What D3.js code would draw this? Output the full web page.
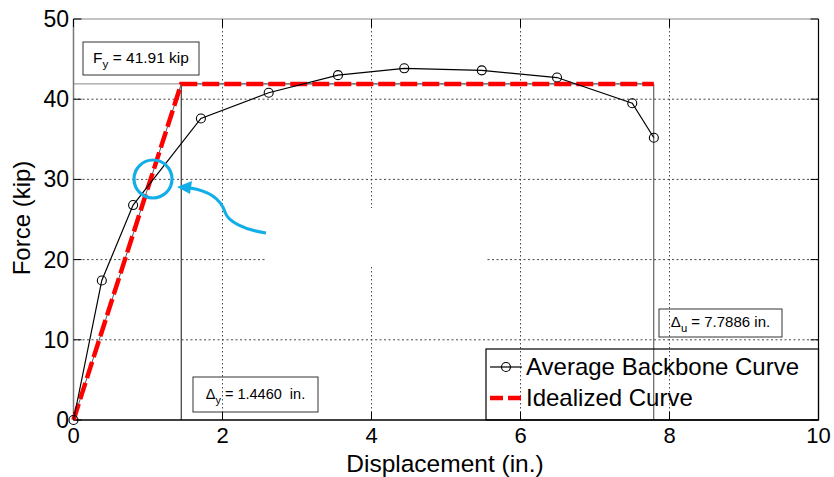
<!DOCTYPE html>
<html>
<head>
<meta charset="utf-8">
<script src="https://cdn.jsdelivr.net/npm/d3@7"></script>
<style>
  html, body { margin: 0; padding: 0; background: #fff; }
  svg { display: block; font-family: "Liberation Sans", Arial, sans-serif; }
</style>
</head>
<body>
<svg id="chart" width="834" height="477"></svg>
<script>
// Average backbone curve (displacement in., force kip)
const backboneDisp  = [0, 0.38, 0.80, 1.71, 2.62, 3.55, 4.44, 5.48, 6.49, 7.50, 7.79];
const backboneForce = [0, 17.4, 26.8, 37.6, 40.8, 43.0, 43.85, 43.6, 42.7, 39.5, 35.2];

// Idealized bilinear curve
const yieldForce = 41.91;
const yieldDisp = 1.4460;
const ultimateDisp = 7.7886;
const idealDisp  = [0, yieldDisp, ultimateDisp];
const idealForce = [0, yieldForce, yieldForce];

const xTicks = [0, 2, 4, 6, 8, 10];
const yTicks = [0, 10, 20, 30, 40, 50];

const svg = d3.select("#chart");
const plotL = 73.5, plotR = 818.5, plotT = 19, plotB = 420;

const x = d3.scaleLinear().domain([0, 10]).range([plotL, plotR]);
const y = d3.scaleLinear().domain([0, 50]).range([plotB, plotT]);

// Grid
const grid = svg.append("g");
grid.selectAll(".gx").data(xTicks.slice(1, -1)).join("line")
  .attr("x1", d => x(d)).attr("x2", d => x(d))
  .attr("y1", plotT).attr("y2", plotB)
  .attr("stroke", "#333").attr("stroke-width", 0.9).attr("stroke-dasharray", "1.5,2.5");
grid.selectAll(".gy").data(yTicks.slice(1, -1)).join("line")
  .attr("x1", plotL).attr("x2", plotR)
  .attr("y1", d => y(d)).attr("y2", d => y(d))
  .attr("stroke", "#333").attr("stroke-width", 0.9).attr("stroke-dasharray", "2,2.5");

// Blank panel
svg.append("rect").attr("x", 266).attr("y", 208).attr("width", 219).attr("height", 57).attr("fill", "#fff");

// Reference lines for yield force and displacements
const refs = svg.append("g").attr("fill", "none");
refs.append("line")
  .attr("x1", x(0)).attr("x2", x(ultimateDisp))
  .attr("y1", y(yieldForce)).attr("y2", y(yieldForce))
  .attr("stroke", "#888").attr("stroke-width", 1);
refs.append("line")
  .attr("x1", x(yieldDisp)).attr("x2", x(yieldDisp))
  .attr("y1", y(yieldForce)).attr("y2", plotB)
  .attr("stroke", "#111").attr("stroke-width", 1);
refs.append("line")
  .attr("x1", x(ultimateDisp)).attr("x2", x(ultimateDisp))
  .attr("y1", y(yieldForce)).attr("y2", plotB)
  .attr("stroke", "#444").attr("stroke-width", 1);

// Axes frame
svg.append("line").attr("x1", plotL).attr("x2", plotR).attr("y1", plotT).attr("y2", plotT).attr("stroke", "#888").attr("stroke-width", 1.2);
svg.append("line").attr("x1", plotL).attr("x2", plotL).attr("y1", plotT).attr("y2", plotB).attr("stroke", "#777").attr("stroke-width", 1.5);
svg.append("line").attr("x1", plotR).attr("x2", plotR).attr("y1", plotT).attr("y2", plotB).attr("stroke", "#000").attr("stroke-width", 1.2);
svg.append("line").attr("x1", plotL).attr("x2", plotR).attr("y1", plotB).attr("y2", plotB).attr("stroke", "#000").attr("stroke-width", 1.5);

// Inward ticks on all four sides
const tk = 8;
const ticks = svg.append("g").attr("stroke", "#000").attr("stroke-width", 1);
ticks.selectAll(".tb").data(xTicks).join("line")
  .attr("x1", d => x(d)).attr("x2", d => x(d)).attr("y1", plotB).attr("y2", plotB - tk);
ticks.selectAll(".tt").data(xTicks).join("line")
  .attr("x1", d => x(d)).attr("x2", d => x(d)).attr("y1", plotT).attr("y2", plotT + tk);
ticks.selectAll(".tl").data(yTicks).join("line")
  .attr("x1", plotL).attr("x2", plotL + tk).attr("y1", d => y(d)).attr("y2", d => y(d));
ticks.selectAll(".tr").data(yTicks).join("line")
  .attr("x1", plotR).attr("x2", plotR - tk).attr("y1", d => y(d)).attr("y2", d => y(d));

// Tick labels
svg.append("g").selectAll("text").data(xTicks).join("text")
  .attr("x", d => x(d)).attr("y", 443)
  .attr("text-anchor", "middle").attr("font-size", 22).text(d => d);
svg.append("g").selectAll("text").data(yTicks).join("text")
  .attr("x", 69).attr("y", d => y(d) + 8)
  .attr("text-anchor", "end").attr("font-size", 23).text(d => d);

// Axis titles
svg.append("text").attr("x", (plotL + plotR) / 2 - 1).attr("y", 472)
  .attr("text-anchor", "middle").attr("font-size", 24.5).text("Displacement (in.)");
svg.append("text").attr("transform", "translate(30,218) rotate(-90)")
  .attr("text-anchor", "middle").attr("font-size", 24).text("Force (kip)");

// Idealized curve
const idealPts = idealDisp.map((d, i) => [x(d), y(idealForce[i])]);
const lineGen = d3.line();
svg.append("path").attr("d", lineGen(idealPts)).attr("fill", "none")
  .attr("stroke", "#556").attr("stroke-width", 1);
svg.append("path").attr("d", lineGen(idealPts)).attr("fill", "none")
  .attr("stroke", "#ff0000").attr("stroke-width", 4.5).attr("stroke-dasharray", "17,5");

// Average backbone curve
const bbPts = backboneDisp.map((d, i) => [x(d), y(backboneForce[i])]);
svg.append("path").attr("d", lineGen(bbPts)).attr("fill", "none")
  .attr("stroke", "#000").attr("stroke-width", 1.2);
svg.append("g").selectAll("circle").data(bbPts).join("circle")
  .attr("cx", d => d[0]).attr("cy", d => d[1]).attr("r", 4.5)
  .attr("fill", "none").attr("stroke", "#000").attr("stroke-width", 1.1);

// Annotation boxes
function annot(bx, by, bw, bh, sym, sub, rest, fs) {
  svg.append("rect").attr("x", bx).attr("y", by).attr("width", bw).attr("height", bh)
    .attr("fill", "none").attr("stroke", "#333").attr("stroke-width", 1);
  const t = svg.append("text").attr("x", bx + bw / 2).attr("y", by + bh / 2 + 4)
    .attr("text-anchor", "middle").attr("font-size", fs)
    .style("white-space", "pre");
  t.append("tspan").text(sym);
  t.append("tspan").attr("font-size", fs * 0.75).attr("dy", 5).text(sub);
  t.append("tspan").attr("dy", -5).text(rest);
}
annot(83, 42, 116, 33, "F", "y", " = 41.91 kip", 15.5);
annot(193, 377, 125, 35, "\u0394", "y", " = 1.4460\u00a0\u00a0in.", 14.5);
annot(659, 309, 123, 28, "\u0394", "u", " = 7.7886 in.", 15);

// Legend
const lg = svg.append("g");
lg.append("rect").attr("x", 486).attr("y", 349).attr("width", plotR - 486).attr("height", plotB - 349)
  .attr("fill", "none").attr("stroke", "#000").attr("stroke-width", 1.2);
lg.append("line").attr("x1", 490).attr("x2", 522).attr("y1", 367).attr("y2", 367)
  .attr("stroke", "#000").attr("stroke-width", 1.2);
lg.append("circle").attr("cx", 506).attr("cy", 367).attr("r", 4.5)
  .attr("fill", "none").attr("stroke", "#000").attr("stroke-width", 1.1);
lg.append("line").attr("x1", 490).attr("x2", 522).attr("y1", 398).attr("y2", 398)
  .attr("stroke", "#ff0000").attr("stroke-width", 4.5).attr("stroke-dasharray", "13,5");
lg.append("text").attr("x", 526).attr("y", 375).attr("font-size", 24).text("Average Backbone Curve");
lg.append("text").attr("x", 526).attr("y", 406).attr("font-size", 24).text("Idealized Curve");

// Highlight circle and arrow
const blue = "#12aee8";
svg.append("circle").attr("cx", 153).attr("cy", 179).attr("r", 19)
  .attr("fill", "none").attr("stroke", blue).attr("stroke-width", 3.2);
svg.append("path")
  .attr("d", "M266,233 C245,230 228,222 225,212 C221,200 210,191 190,188")
  .attr("fill", "none").attr("stroke", blue).attr("stroke-width", 3);
svg.append("path")
  .attr("d", "M177,187 L192,181 L190,194 Z")
  .attr("fill", blue);
</script>
</body>
</html>
